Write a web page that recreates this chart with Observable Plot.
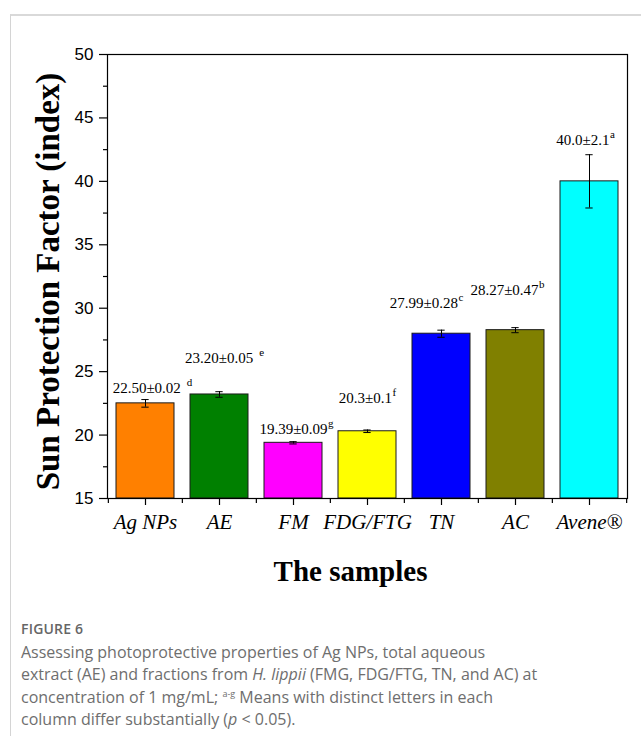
<!DOCTYPE html>
<html>
<head>
<meta charset="utf-8">
<script src="https://cdn.jsdelivr.net/npm/d3@7"></script>
<script src="https://cdn.jsdelivr.net/npm/@observablehq/plot@0.6"></script>
<style>
  html, body { margin: 0; padding: 0; background: #fff; }
  #page { position: relative; width: 641px; height: 736px; overflow: hidden; background: #fff; }
  #border { position: absolute; left: 10px; top: 14px; width: 720px; height: 800px;
            border-left: 1px solid #d4d4d4; border-top: 2px solid #d9d9d9; }
  #chart { position: absolute; left: 0; top: 0; }
  #caption { position: absolute; left: 21px; top: 619px; font-family: "Open Sans", sans-serif; color: #6e6e6e; }
  #caption .fig { font-size: 14px; font-weight: 600; letter-spacing: 0.2px; line-height: 20px; color: #666; }
  #caption .txt { font-size: 16px; line-height: 22.3px; white-space: nowrap; margin-top: 2px; }
  #caption sup { font-size: 9px; vertical-align: 6px; line-height: 0; }
</style>
</head>
<body>
<div id="page">
  <div id="border"></div>
  <div id="chart"></div>
  <div id="caption">
    <div class="fig">FIGURE 6</div>
    <div class="txt">Assessing photoprotective properties of Ag NPs, total aqueous<br>extract (AE) and fractions from <i>H. lippii</i> (FMG, FDG/FTG, TN, and AC) at<br>concentration of 1 mg/mL; <sup>a-g</sup> Means with distinct letters in each<br>column differ substantially (<i>p</i> &lt; 0.05).</div>
  </div>
</div>
<script>
// ---- data ----
const categories = ["Ag NPs", "AE", "FM", "FDG/FTG", "TN", "AC", "Avene®"];
const values = [22.50, 23.20, 19.39, 20.3, 27.99, 28.27, 40.0];
const errors = [0.30, 0.22, 0.09, 0.10, 0.28, 0.20, 2.1];
const valueLabels = ["22.50±0.02", "23.20±0.05", "19.39±0.09", "20.3±0.1", "27.99±0.28", "28.27±0.47", "40.0±2.1"];
const letters = ["d", "e", "g", "f", "c", "b", "a"];
const colors = ["#FF8000", "#008000", "#FF00FF", "#FFFF00", "#0000FF", "#808000", "#00FFFF"];
const yTicks = [15, 20, 25, 30, 35, 40, 45, 50];
const yMinorTicks = [17.5, 22.5, 27.5, 32.5, 37.5, 42.5, 47.5];
const yDomain = [15, 50];
// annotation anchors (value-label baselines, in y units) and small nudges
const labelAt = [23.3, 25.65, 20.05, 22.5, 30.05, 31.05, 42.85];
const labelNudge = [7, 5, 3, 0, -15, -8, -4];
const letterGap = [6, 6, 0.5, 0.5, 0.5, 0.5, 0.5];

const rows = categories.map((c, i) => ({
  cat: c, value: values[i], err: errors[i], label: valueLabels[i],
  letter: letters[i], color: colors[i], at: labelAt[i], nudge: labelNudge[i], gap: letterGap[i]
}));

const W = 641, H = 600, mL = 107, mR = 14, mT = 54, mB = 102;
const step = (W - mL - mR) / categories.length;
const padInner = 0.21;
const bandwidth = step * (1 - padInner);
const capHalf = 4;
const serif = "'Liberation Serif', 'Times New Roman', serif";
const sans = "'Liberation Sans', Arial, sans-serif";

const marks = [
  Plot.barY(rows, {x: "cat", y1: yDomain[0], y2: "value", fill: "color", stroke: "#1a1a1a", strokeWidth: 1}),
  Plot.ruleX(rows, {x: "cat", y1: d => d.value - d.err, y2: d => d.value + d.err, stroke: "#000", strokeWidth: 1}),
  Plot.tickY(rows, {x: "cat", y: d => d.value - d.err, stroke: "#000", strokeWidth: 1,
    insetLeft: bandwidth / 2 - capHalf, insetRight: bandwidth / 2 - capHalf}),
  Plot.tickY(rows, {x: "cat", y: d => d.value + d.err, stroke: "#000", strokeWidth: 1,
    insetLeft: bandwidth / 2 - capHalf, insetRight: bandwidth / 2 - capHalf}),
  Plot.text(rows, {x: "cat", y: "at", text: "label", lineAnchor: "bottom",
    fontFamily: serif, fontSize: 15, fill: "#000"}),
  Plot.frame({stroke: "#000", strokeWidth: 1.2}),
  Plot.axisY({ticks: yTicks, tickSize: 8, tickPadding: 6, label: null, fontFamily: sans, fontSize: 17, color: "#000", strokeWidth: 1.2}),
  Plot.axisY({ticks: yMinorTicks, tickSize: 4, tickFormat: () => "", label: null, color: "#000", strokeWidth: 1.2}),
  Plot.axisX({tickSize: 7, tickPadding: 9, label: null, fontFamily: serif, fontSize: 21, fontStyle: "italic", color: "#000", strokeWidth: 1.2}),
  Plot.ruleX(categories, {x: d => d, dx: -step / 2, insetTop: H - mT - mB, insetBottom: -5, stroke: "#000", strokeWidth: 1.2}),
  Plot.ruleX([categories[categories.length - 1]], {x: d => d, dx: step / 2, insetTop: H - mT - mB, insetBottom: -5, stroke: "#000", strokeWidth: 1.2}),
  Plot.text(["Sun Protection Factor (index)"], {frameAnchor: "left", textAnchor: "middle", text: d => d, rotate: -90, dx: -59, dy: 5,
    fontFamily: serif, fontWeight: "bold", fontSize: 33, fill: "#000"}),
  Plot.text(["The samples"], {frameAnchor: "bottom", textAnchor: "middle", text: d => d, lineAnchor: "bottom", dy: 82, dx: -17,
    fontFamily: serif, fontWeight: "bold", fontSize: 29, fill: "#000"})
];

const chart = Plot.plot({
  width: W, height: H,
  marginLeft: mL, marginRight: mR, marginTop: mT, marginBottom: mB,
  x: {domain: categories, paddingInner: padInner, paddingOuter: padInner / 2, label: null},
  y: {domain: yDomain, label: null},
  color: {type: "identity"},
  style: {background: "transparent", color: "#000", overflow: "visible"},
  marks
});

// superscript letters + per-label nudges (match the value-label texts by content)
chart.querySelectorAll("text").forEach(t => {
  const i = valueLabels.indexOf(t.textContent);
  if (i < 0) return;
  const r = rows[i];
  if (t.hasAttribute("x")) {
    t.setAttribute("x", (+t.getAttribute("x") || 0) + r.nudge);
  } else {
    const tr = t.getAttribute("transform") || "";
    t.setAttribute("transform", `translate(${r.nudge},0) ${tr}`);
  }
  const ts = document.createElementNS("http://www.w3.org/2000/svg", "tspan");
  ts.setAttribute("dy", "-7");
  ts.setAttribute("dx", String(r.gap));
  ts.setAttribute("font-size", "11");
  ts.textContent = r.letter;
  t.appendChild(ts);
});

document.getElementById("chart").appendChild(chart);
</script>
</body>
</html>
